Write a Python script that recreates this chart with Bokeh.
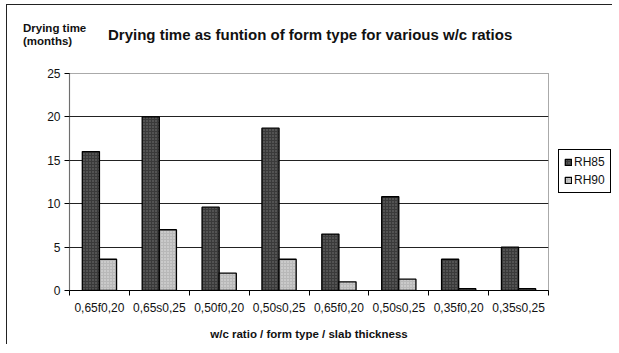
import numpy as np
from bokeh.plotting import figure
from bokeh.layouts import column, row
from bokeh.models import (ColumnDataSource, FixedTicker, Legend, LegendItem,
                          Range1d, Div)
from bokeh.embed import file_html
from bokeh.resources import INLINE

categories = ["0,65f0,20", "0,65s0,25", "0,50f0,20", "0,50s0,25",
              "0,65f0,20", "0,50s0,25", "0,35f0,20", "0,35s0,25"]
rh85 = [16.0, 20.0, 9.6, 18.7, 6.5, 10.8, 3.6, 5.0]
rh90 = [3.6, 7.0, 2.0, 3.6, 1.0, 1.3, 0.2, 0.2]
series_names = ["RH85", "RH90"]
y_ticks = [0, 5, 10, 15, 20, 25]
title_text = "Drying time as funtion of form type for various w/c ratios"
y_title_lines = ["Drying time", "(months)"]
x_title = "w/c ratio / form type / slab thickness"

FONT = "Liberation Sans"
W = 604
HEADER_H = 48
PLOT_H = 291
n = len(categories)
centers = np.arange(n) + 0.5
bw = 0.286

header_html = (
    f'<div style="position:relative;width:{W}px;height:{HEADER_H}px;'
    f'font-family:\'{FONT}\';color:#111;">'
    f'<div style="position:absolute;left:16px;top:17px;font-size:11.5px;'
    f'font-weight:bold;line-height:13px;white-space:nowrap;">'
    f'{y_title_lines[0]}<br>{y_title_lines[1]}</div>'
    f'<div style="position:absolute;left:101px;top:21px;font-size:15px;'
    f'font-weight:bold;line-height:17px;white-space:nowrap;">{title_text}</div>'
    f'</div>'
)
header = Div(text=header_html, width=W, height=HEADER_H, margin=(0, 0, 0, 0))
top_space = Div(text="", width=W + 8, height=4, margin=(0, 0, 0, 0))
left_space = Div(text="", width=6, height=HEADER_H + PLOT_H + 1, margin=(0, 0, 0, 0))
top_line = Div(text="", width=W + 2, height=1, margin=(0, 0, 0, 0),
               styles={"background-color": "#222222"})
left_line = Div(text="", width=1, height=HEADER_H + PLOT_H, margin=(0, 0, 0, 0),
                styles={"background-color": "#222222"})

p = figure(width=W, height=PLOT_H, output_backend="svg", toolbar_location=None,
           x_range=Range1d(0, n), y_range=Range1d(0, 25),
           frame_width=479, frame_height=217,
           min_border_left=62, min_border_right=63,
           min_border_top=20, min_border_bottom=54)
p.background_fill_color = "white"
p.border_fill_color = "white"
p.outline_line_color = "#555555"
p.outline_line_dash = "1 1"

src = ColumnDataSource(dict(x=centers, x85=centers - bw / 2, x90=centers + bw / 2,
                            rh85=rh85, rh90=rh90))
r85 = p.vbar(x="x85", top="rh85", width=bw, source=src, fill_color="#3a3a3a",
             line_color="black", line_width=1.3,
             hatch_pattern="dot", hatch_color="#777777", hatch_scale=3)
r90 = p.vbar(x="x90", top="rh90", width=bw, source=src, fill_color="#b8b8b8",
             line_color="black", line_width=1.3,
             hatch_pattern="dot", hatch_color="#e6e6e6", hatch_scale=3)

xa = p.xaxis[0]
xa.ticker = FixedTicker(ticks=list(centers), minor_ticks=list(range(n + 1)))
xa.major_label_overrides = {float(c): lab for c, lab in zip(centers, categories)}
xa.major_tick_out = 0
xa.major_tick_in = 0
xa.minor_tick_out = 5
xa.minor_tick_in = 0
xa.minor_tick_line_color = "black"
xa.axis_line_color = "black"
xa.axis_line_width = 1.2
xa.major_label_text_font = FONT
xa.major_label_text_font_size = "12px"
xa.major_label_text_color = "#111111"
xa.major_label_standoff = 5
xa.axis_label = x_title
xa.axis_label_text_font = FONT
xa.axis_label_text_font_size = "11.5px"
xa.axis_label_text_font_style = "bold"
xa.axis_label_text_color = "#111111"
xa.axis_label_standoff = 10

ya = p.yaxis[0]
ya.ticker = FixedTicker(ticks=y_ticks)
ya.minor_tick_line_color = None
ya.major_tick_out = 5
ya.major_tick_in = 0
ya.major_tick_line_color = "black"
ya.axis_line_color = "#333333"
ya.axis_line_dash = "1 1"
ya.axis_line_width = 1.2
ya.major_label_text_font = FONT
ya.major_label_text_font_size = "12px"
ya.major_label_text_color = "#111111"
ya.major_label_standoff = 4

p.xgrid.grid_line_color = None
p.ygrid.ticker = FixedTicker(ticks=y_ticks[1:-1])
p.ygrid.grid_line_color = "#222222"
p.ygrid.grid_line_width = 1

legend = Legend(items=[LegendItem(label=series_names[0], renderers=[r85]),
                       LegendItem(label=series_names[1], renderers=[r90])],
                location=(10, 97))
legend.label_text_font = FONT
legend.label_text_font_size = "12px"
legend.label_text_color = "#111111"
legend.glyph_width = 8
legend.glyph_height = 8
legend.label_standoff = 2
legend.padding = 5
legend.spacing = 4
legend.margin = 0
legend.label_height = 14
legend.border_line_color = "black"
legend.border_line_width = 1.2
legend.border_line_alpha = 1.0
legend.background_fill_color = "white"
legend.background_fill_alpha = 1
p.add_layout(legend, "right")

framed = column(top_line, row(left_line, column(header, p, spacing=0), spacing=0), spacing=0)
layout = column(top_space, row(left_space, framed, spacing=0), spacing=0)
open("out.html", "w").write(file_html(layout, INLINE))
